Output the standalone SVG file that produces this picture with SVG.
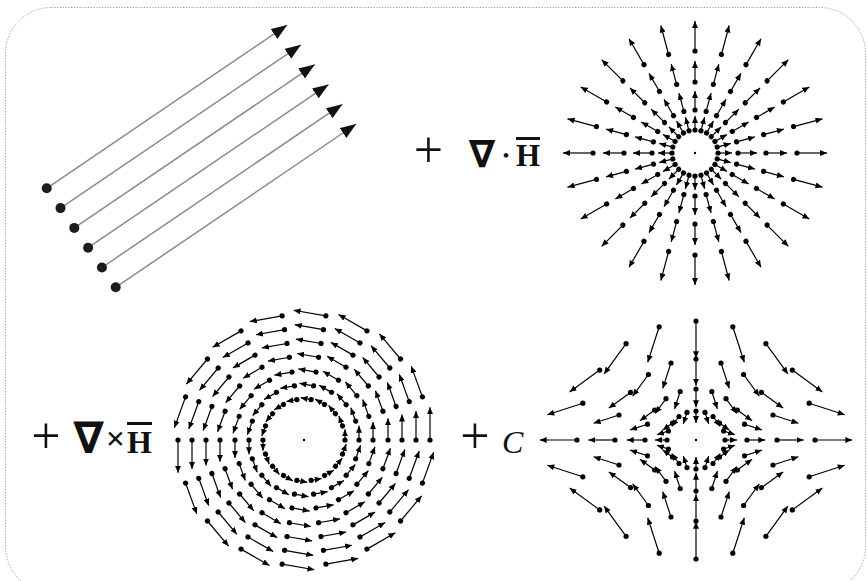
<svg xmlns="http://www.w3.org/2000/svg" width="868" height="581" viewBox="0 0 868 581">
<style>
.frame{fill:#fff;stroke:#9a9a9a;stroke-width:1;stroke-dasharray:1.2 1.6}
.ln{stroke:#000;stroke-width:1.2;fill:none;marker-end:url(#ah)}
.dt{fill:#000;stroke:none}
.pl{stroke:#8a8a8a;stroke-width:1.5;fill:none;marker-end:url(#bh)}
.pd{fill:#1c1c1c}
.plus{font-family:'Liberation Serif',serif;font-size:52px;text-anchor:middle;fill:#111}
.nab{font-family:'DejaVu Sans',sans-serif;font-weight:bold;text-anchor:middle;fill:#111}
.hb{font-family:'Liberation Serif',serif;font-weight:bold;fill:#111}
.bar{fill:#111}
</style>
<defs>
<marker id="ah" markerUnits="userSpaceOnUse" markerWidth="8" markerHeight="7" refX="7" refY="3" orient="auto"><path d="M0,0 L7,3 L0,6 z" fill="#000"/></marker>
<marker id="bh" markerUnits="userSpaceOnUse" markerWidth="17" markerHeight="13" refX="16" refY="6" orient="auto"><path d="M0,0 L16,6 L0,12 z" fill="#111"/></marker>
<g id="ray">
<g class="ln"><line x1="23" y1="0" x2="37" y2="0"/><line x1="43" y1="0" x2="62" y2="0"/><line x1="71" y1="0" x2="92" y2="0"/><line x1="102" y1="0" x2="132" y2="0"/></g>
<g class="dt"><circle cx="23" cy="0" r="2.6"/><circle cx="43" cy="0" r="2.6"/><circle cx="71" cy="0" r="2.6"/><circle cx="102" cy="0" r="2.6"/></g>
</g>
<g id="spoke">
<g class="ln"><line x1="41" y1="0" x2="41" y2="-10.7"/><line x1="55" y1="0" x2="55" y2="-14.3"/><line x1="69" y1="0" x2="69" y2="-17.9"/><line x1="84" y1="0" x2="84" y2="-21.8"/><line x1="98" y1="0" x2="98" y2="-25.5"/><line x1="112" y1="0" x2="112" y2="-29.1"/><line x1="126" y1="0" x2="126" y2="-32.8"/></g>
<g class="dt"><circle cx="41" cy="0" r="2.6"/><circle cx="55" cy="0" r="2.6"/><circle cx="69" cy="0" r="2.6"/><circle cx="84" cy="0" r="2.6"/><circle cx="98" cy="0" r="2.6"/><circle cx="112" cy="0" r="2.6"/><circle cx="126" cy="0" r="2.6"/></g>
</g>
<g id="q4">
<g class="ln">
<line x1="113.2" y1="-36.8" x2="148.7" y2="-25.2"/><line x1="96.3" y1="-69.9" x2="126.4" y2="-48"/><line x1="69.9" y1="-96.3" x2="91.9" y2="-66.1"/><line x1="36.8" y1="-113.2" x2="48.3" y2="-77.7"/>
<line x1="77" y1="-25" x2="102.4" y2="-16.8"/><line x1="65.5" y1="-47.6" x2="87.1" y2="-31.9"/><line x1="47.6" y1="-65.5" x2="63.3" y2="-43.9"/><line x1="25" y1="-77" x2="33.3" y2="-51.6"/>
<line x1="48.5" y1="-15.8" x2="65.9" y2="-10.1"/><line x1="41.3" y1="-30" x2="56.1" y2="-19.2"/><line x1="30" y1="-41.3" x2="40.7" y2="-26.5"/><line x1="15.8" y1="-48.5" x2="21.4" y2="-31.1"/>
<line x1="27.6" y1="-9" x2="39.1" y2="-5.2"/><line x1="23.5" y1="-17" x2="33.2" y2="-9.9"/><line x1="17" y1="-23.5" x2="24.2" y2="-13.7"/><line x1="9" y1="-27.6" x2="12.7" y2="-16.1"/>
</g>
<g class="dt">
<circle cx="113.2" cy="-36.8" r="2.6"/><circle cx="96.3" cy="-69.9" r="2.6"/><circle cx="69.9" cy="-96.3" r="2.6"/><circle cx="36.8" cy="-113.2" r="2.6"/>
<circle cx="77" cy="-25" r="2.6"/><circle cx="65.5" cy="-47.6" r="2.6"/><circle cx="47.6" cy="-65.5" r="2.6"/><circle cx="25" cy="-77" r="2.6"/>
<circle cx="48.5" cy="-15.8" r="2.6"/><circle cx="41.3" cy="-30" r="2.6"/><circle cx="30" cy="-41.3" r="2.6"/><circle cx="15.8" cy="-48.5" r="2.6"/>
<circle cx="27.6" cy="-9" r="2.6"/><circle cx="23.5" cy="-17" r="2.6"/><circle cx="17" cy="-23.5" r="2.6"/><circle cx="9" cy="-27.6" r="2.6"/>
</g>
</g>
<g id="hx">
<g class="ln"><line x1="119" y1="0" x2="156.3" y2="0"/><line x1="81" y1="0" x2="107.7" y2="0"/><line x1="51" y1="0" x2="69.3" y2="0"/><line x1="29" y1="0" x2="41.1" y2="0"/></g>
<g class="dt"><circle cx="119" cy="0" r="2.6"/><circle cx="81" cy="0" r="2.6"/><circle cx="51" cy="0" r="2.6"/><circle cx="29" cy="0" r="2.6"/></g>
</g>
<g id="vy">
<g class="ln"><line x1="0" y1="-119" x2="0" y2="-81.7"/><line x1="0" y1="-81" x2="0" y2="-54.3"/><line x1="0" y1="-51" x2="0" y2="-32.7"/><line x1="0" y1="-29" x2="0" y2="-16.9"/></g>
<g class="dt"><circle cx="0" cy="-119" r="2.6"/><circle cx="0" cy="-81" r="2.6"/><circle cx="0" cy="-51" r="2.6"/><circle cx="0" cy="-29" r="2.6"/></g>
</g>
</defs>

<rect class="frame" x="5.5" y="7.5" width="860" height="585" rx="46" ry="46"/>

<g id="panel-uniform">
<g class="pl">
<line x1="46.7" y1="188.3" x2="287.2" y2="25"/>
<line x1="60.5" y1="208.1" x2="301" y2="44.8"/>
<line x1="74.3" y1="227.9" x2="314.8" y2="64.6"/>
<line x1="88.1" y1="247.7" x2="328.6" y2="84.4"/>
<line x1="101.9" y1="267.5" x2="342.4" y2="104.2"/>
<line x1="115.7" y1="287.3" x2="356.2" y2="124"/>
</g>
<g class="pd">
<circle cx="46.7" cy="188.3" r="5"/><circle cx="60.5" cy="208.1" r="5"/><circle cx="74.3" cy="227.9" r="5"/><circle cx="88.1" cy="247.7" r="5"/><circle cx="101.9" cy="267.5" r="5"/><circle cx="115.7" cy="287.3" r="5"/>
</g>
</g>

<g id="label-div">
<text class="plus" x="428.5" y="166.7">+</text>
<text class="nab" x="482" y="167" font-size="38">∇</text>
<text class="hb" x="506" y="161" font-size="17" text-anchor="middle">•</text>
<text class="hb" x="516" y="166" font-size="31">H</text>
<rect class="bar" x="516" y="137" width="24" height="3"/>
</g>

<g id="panel-div" transform="translate(695,153)">
<use href="#ray"/><use href="#ray" transform="rotate(15)"/><use href="#ray" transform="rotate(30)"/><use href="#ray" transform="rotate(45)"/><use href="#ray" transform="rotate(60)"/><use href="#ray" transform="rotate(75)"/><use href="#ray" transform="rotate(90)"/><use href="#ray" transform="rotate(105)"/><use href="#ray" transform="rotate(120)"/><use href="#ray" transform="rotate(135)"/><use href="#ray" transform="rotate(150)"/><use href="#ray" transform="rotate(165)"/><use href="#ray" transform="rotate(180)"/><use href="#ray" transform="rotate(195)"/><use href="#ray" transform="rotate(210)"/><use href="#ray" transform="rotate(225)"/><use href="#ray" transform="rotate(240)"/><use href="#ray" transform="rotate(255)"/><use href="#ray" transform="rotate(270)"/><use href="#ray" transform="rotate(285)"/><use href="#ray" transform="rotate(300)"/><use href="#ray" transform="rotate(315)"/><use href="#ray" transform="rotate(330)"/><use href="#ray" transform="rotate(345)"/>
<circle class="dt" cx="0" cy="0" r="1.2"/>
</g>

<g id="label-curl">
<text class="plus" x="46" y="453">+</text>
<text class="nab" x="88.5" y="453" font-size="44">∇</text>
<text class="hb" x="115.5" y="450" font-size="34" text-anchor="middle">×</text>
<text class="hb" x="127" y="453" font-size="32">H</text>
<rect class="bar" x="127" y="422" width="25" height="3"/>
</g>

<g id="panel-curl" transform="translate(304,440)">
<use href="#spoke"/><use href="#spoke" transform="rotate(-20)"/><use href="#spoke" transform="rotate(-40)"/><use href="#spoke" transform="rotate(-60)"/><use href="#spoke" transform="rotate(-80)"/><use href="#spoke" transform="rotate(-100)"/><use href="#spoke" transform="rotate(-120)"/><use href="#spoke" transform="rotate(-140)"/><use href="#spoke" transform="rotate(-160)"/><use href="#spoke" transform="rotate(-180)"/><use href="#spoke" transform="rotate(-200)"/><use href="#spoke" transform="rotate(-220)"/><use href="#spoke" transform="rotate(-240)"/><use href="#spoke" transform="rotate(-260)"/><use href="#spoke" transform="rotate(-280)"/><use href="#spoke" transform="rotate(-300)"/><use href="#spoke" transform="rotate(-320)"/><use href="#spoke" transform="rotate(-340)"/>
<circle class="dt" cx="0" cy="0" r="1.2"/>
</g>

<g id="label-const">
<text class="plus" x="475" y="453">+</text>
<text x="502" y="453" font-family="'Liberation Serif',serif" font-style="italic" font-size="32" fill="#111">C</text>
</g>

<g id="panel-const" transform="translate(696,440)">
<use href="#q4"/><use href="#q4" transform="scale(-1,1)"/><use href="#q4" transform="scale(1,-1)"/><use href="#q4" transform="scale(-1,-1)"/>
<use href="#hx"/><use href="#hx" transform="scale(-1,1)"/>
<use href="#vy"/><use href="#vy" transform="scale(1,-1)"/>
<circle class="dt" cx="0" cy="0" r="1.2"/>
</g>
</svg>
